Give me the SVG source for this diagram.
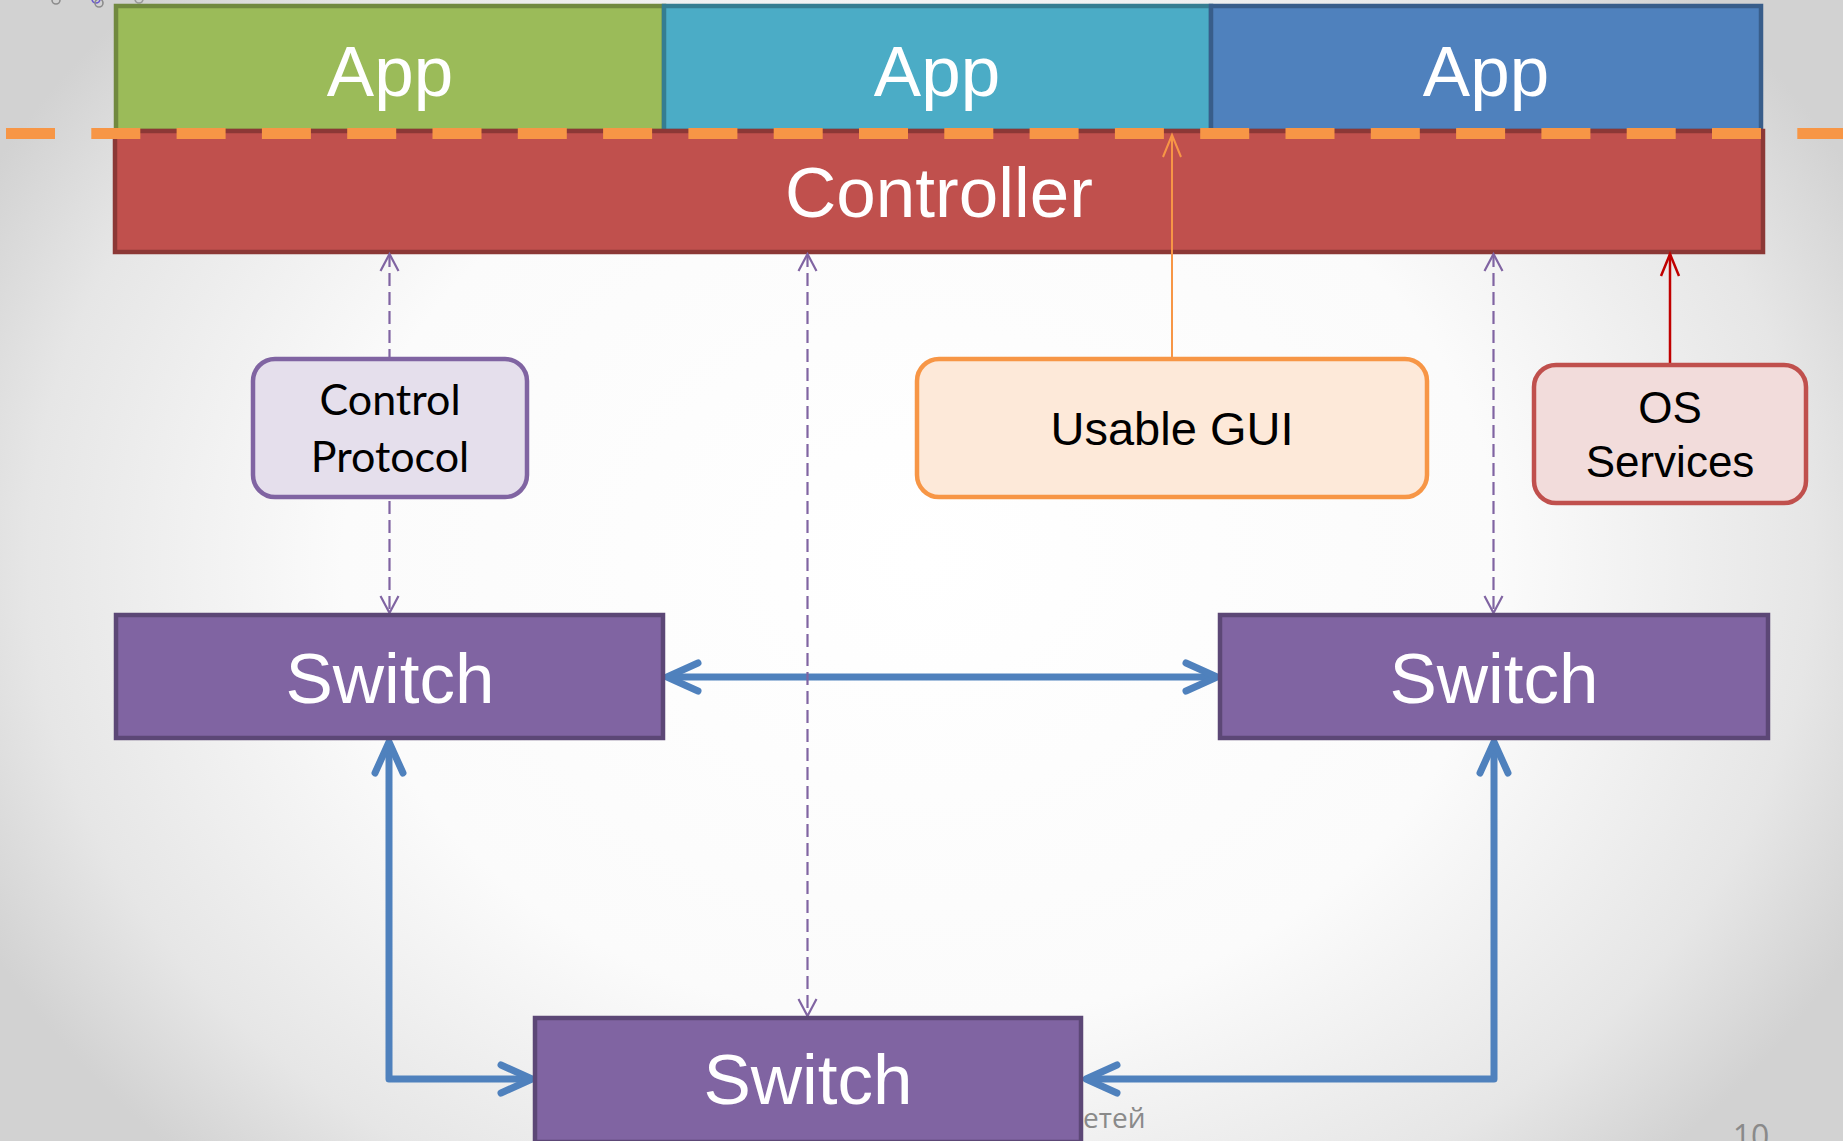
<svg xmlns="http://www.w3.org/2000/svg" width="1843" height="1141" viewBox="0 0 1843 1141">
  <defs>
    <radialGradient id="bg" gradientUnits="userSpaceOnUse" cx="921" cy="560" r="1050" gradientTransform="translate(921 560) scale(1 0.8) translate(-921 -560)">
      <stop offset="0" stop-color="#ffffff"/>
      <stop offset="0.55" stop-color="#fbfbfb"/>
      <stop offset="0.85" stop-color="#e6e6e6"/>
      <stop offset="1" stop-color="#d2d2d2"/>
    </radialGradient>
    <!-- open arrowheads -->
    <marker id="blueHead" markerUnits="userSpaceOnUse" viewBox="-40 -20 50 40" refX="0" refY="0" markerWidth="50" markerHeight="40" orient="auto-start-reverse">
      <path d="M-31,-14 L0,0 L-31,14" fill="none" stroke="#4f81bd" stroke-width="7" stroke-linecap="round" stroke-linejoin="round"/>
    </marker>
    <marker id="purpleHead" markerUnits="userSpaceOnUse" viewBox="-24 -14 30 28" refX="0" refY="0" markerWidth="30" markerHeight="28" orient="auto-start-reverse">
      <path d="M-17,-9 L0,0 L-17,9" fill="none" stroke="#8064a2" stroke-width="2.2"/>
    </marker>
    <marker id="orangeHead" markerUnits="userSpaceOnUse" viewBox="-28 -14 34 28" refX="0" refY="0" markerWidth="34" markerHeight="28" orient="auto">
      <path d="M-22,-9 L0,0 L-22,9" fill="none" stroke="#f79646" stroke-width="2"/>
    </marker>
    <marker id="redHead" markerUnits="userSpaceOnUse" viewBox="-28 -14 34 28" refX="0" refY="0" markerWidth="34" markerHeight="28" orient="auto">
      <path d="M-22,-9 L0,0 L-22,9" fill="none" stroke="#c00000" stroke-width="2.5"/>
    </marker>
  </defs>
  <style>
    .app-text, .ctl-text, .sw-text { font-family: "Liberation Sans", Arial, sans-serif; fill: #ffffff; text-anchor: middle; }
    .app-text { font-size: 71px; }
    .ctl-text { font-size: 71px; }
    .sw-text { font-size: 71px; }
    .switch { fill: #8064a2; stroke: #5c4776; stroke-width: 4.5; }
    .label { font-family: "Liberation Sans", Arial, sans-serif; fill: #000000; text-anchor: middle; }
    .calibri { font-family: Lato, "Open Sans", sans-serif; fill: #000000; text-anchor: middle; font-size: 43px; }
    .dashed { fill: none; stroke: #8064a2; stroke-width: 2.2; stroke-dasharray: 13 6; marker-start: url(#purpleHead); marker-end: url(#purpleHead); }
    .link { fill: none; stroke: #4f81bd; stroke-width: 7; stroke-linejoin: round; marker-start: url(#blueHead); marker-end: url(#blueHead); }
    .footer { font-family: "Open Sans", "Noto Sans", sans-serif; fill: #8a8a8a; }
  </style>

  <rect width="1843" height="1141" fill="url(#bg)"/>

  <!-- small ring ornaments along the top edge -->
  <g fill="none" stroke-width="1.6">
    <circle cx="56" cy="0" r="4" stroke="#8c8c8c"/>
    <circle cx="96" cy="-1" r="4" stroke="#6a5acd"/>
    <circle cx="99" cy="3" r="4" stroke="#8c8c8c"/>
    <circle cx="139" cy="-1" r="4" stroke="#9a9a9a"/>
  </g>

  <!-- application layer -->
  <g id="app-green">
    <rect x="116" y="6" width="548" height="125" fill="#9bbb59" stroke="#71893f" stroke-width="4.5"/>
    <text class="app-text" x="390" y="96">App</text>
  </g>
  <g id="app-cyan">
    <rect x="664" y="6" width="547" height="125" fill="#4bacc6" stroke="#357d91" stroke-width="4.5"/>
    <text class="app-text" x="937" y="96">App</text>
  </g>
  <g id="app-blue">
    <rect x="1211" y="6" width="550" height="125" fill="#4f81bd" stroke="#385d8a" stroke-width="4.5"/>
    <text class="app-text" x="1486" y="96">App</text>
  </g>

  <!-- controller -->
  <g id="controller">
    <rect x="115" y="131" width="1648" height="121" fill="#c0504d" stroke="#8c3836" stroke-width="4.5"/>
    <text class="ctl-text" x="939" y="217">Controller</text>
  </g>

  <!-- northbound boundary -->
  <line id="boundary" x1="6" y1="133.5" x2="1843" y2="133.5" stroke="#f79646" stroke-width="11" stroke-dasharray="49 36.3"/>

  <!-- connectors -->
  <g id="connectors">
    <path class="link" d="M667,677 H1217"/>
    <path class="link" d="M389,742 V1079 H532"/>
    <path class="link" d="M1494,742 V1079 H1086"/>
    <path class="dashed" d="M389.5,254 V613"/>
    <path class="dashed" d="M807.5,254 V1016"/>
    <path class="dashed" d="M1493.5,254 V613"/>
    <path d="M1172,358 V135" fill="none" stroke="#f79646" stroke-width="2" marker-end="url(#orangeHead)"/>
    <path d="M1670,364 V254" fill="none" stroke="#c00000" stroke-width="2.5" marker-end="url(#redHead)"/>
  </g>

  <!-- helper boxes -->
  <g id="control-protocol">
    <rect x="253" y="359" width="274" height="138" rx="22" fill="#e5dfec" stroke="#8064a2" stroke-width="4.5"/>
    <text class="calibri" x="390" y="415">Control</text>
    <text class="calibri" x="390" y="472">Protocol</text>
  </g>
  <g id="usable-gui">
    <rect x="917" y="359" width="510" height="138" rx="22" fill="#fde9d9" stroke="#f79646" stroke-width="4.5"/>
    <text class="label" x="1172" y="445" font-size="47">Usable GUI</text>
  </g>
  <g id="os-services">
    <rect x="1534" y="365" width="272" height="138" rx="22" fill="#f2dcdb" stroke="#c0504d" stroke-width="4.5"/>
    <text class="label" x="1670" y="423" font-size="44">OS</text>
    <text class="label" x="1670" y="477" font-size="44">Services</text>
  </g>

  <!-- switches -->
  <g id="switch-left">
    <rect class="switch" x="116" y="615" width="547" height="123"/>
    <text class="sw-text" x="390" y="703">Switch</text>
  </g>
  <g id="switch-right">
    <rect class="switch" x="1220" y="615" width="548" height="123"/>
    <text class="sw-text" x="1494" y="703">Switch</text>
  </g>
  <g id="footer">
    <text class="footer" x="1083" y="1128" font-size="28">етей</text>
    <text class="footer" x="1751" y="1148" font-size="32" text-anchor="middle">10</text>
  </g>
  <g id="switch-bottom">
    <rect class="switch" x="535" y="1018" width="546" height="124"/>
    <text class="sw-text" x="808" y="1104">Switch</text>
  </g>
</svg>
